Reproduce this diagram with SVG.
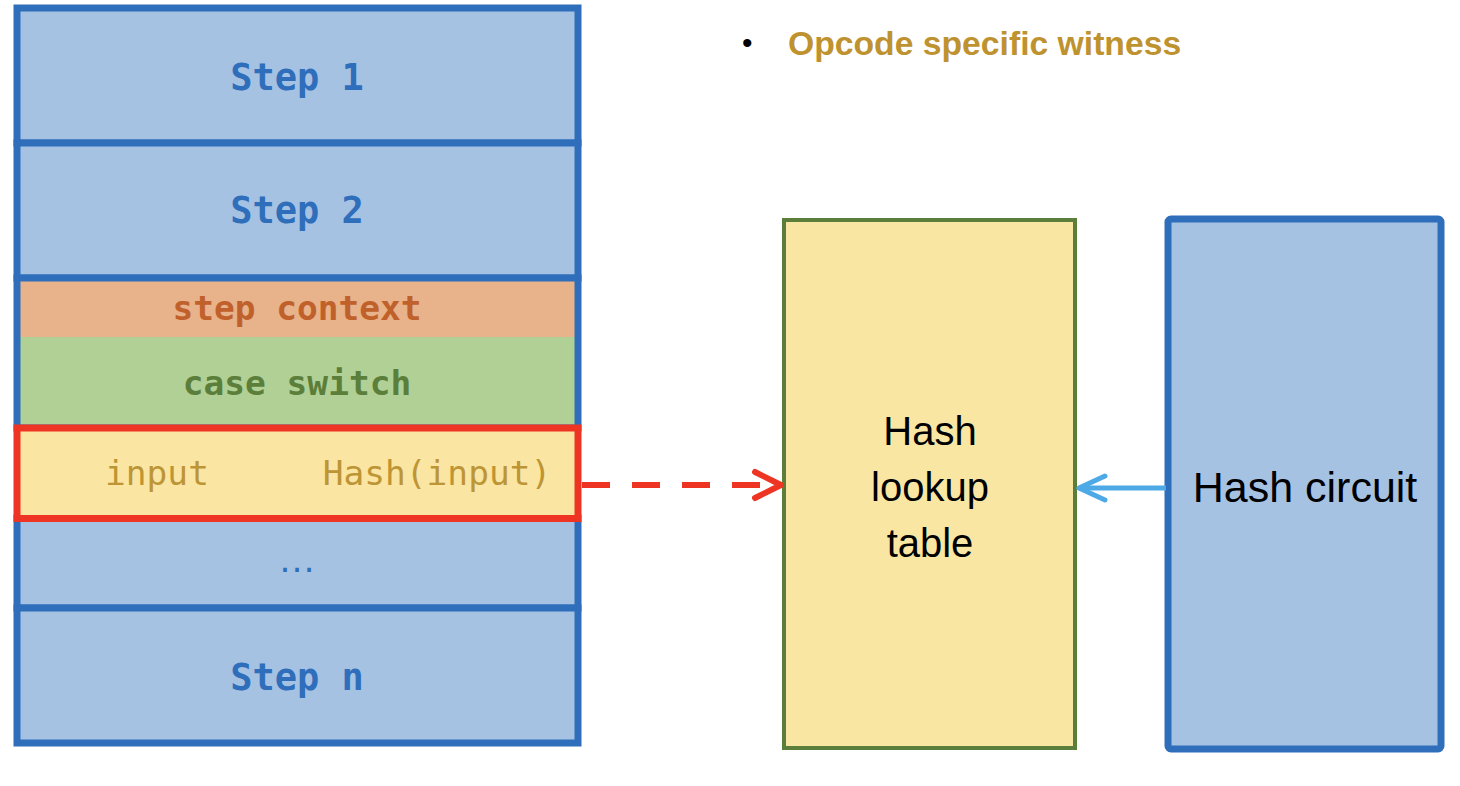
<svg xmlns="http://www.w3.org/2000/svg" width="1460" height="786" viewBox="0 0 1460 786">
<style>
.mono{font-family:"DejaVu Sans Mono","Liberation Mono",monospace;font-weight:bold;text-anchor:middle}
.mreg{font-family:"DejaVu Sans Mono","Liberation Mono",monospace;text-anchor:middle}
.sans{font-family:"Liberation Sans",Arial,sans-serif;text-anchor:middle;fill:#000}
.blueRow{fill:#A6C2E3;stroke:#2F6EBA;stroke-width:7}
.stepTxt{fill:#2F6EBA;font-size:37px}
</style>
<defs>
<marker id="redHead" markerUnits="userSpaceOnUse" viewBox="0 0 40 40" refX="34" refY="20" markerWidth="40" markerHeight="40" orient="auto">
<polyline points="8,7 34,20 8,33" fill="none" stroke="#EE3524" stroke-width="6" stroke-linecap="round" stroke-linejoin="round"/>
</marker>
<marker id="blueHead" markerUnits="userSpaceOnUse" viewBox="0 0 40 40" refX="35" refY="20" markerWidth="40" markerHeight="40" orient="auto">
<polyline points="9,8 35,20 9,32" fill="none" stroke="#4DAAE6" stroke-width="5" stroke-linecap="round" stroke-linejoin="round"/>
</marker>
</defs>
<rect width="1460" height="786" fill="#fff"/>

<g id="step1">
<rect class="blueRow" x="17" y="8" width="561" height="135"/>
<text class="mono stepTxt" x="297" y="90">Step 1</text>
</g>
<g id="step2">
<rect class="blueRow" x="17" y="143" width="561" height="135"/>
<text class="mono stepTxt" x="297" y="223">Step 2</text>
</g>
<g id="step-context">
<rect x="17" y="278" width="561" height="59" fill="#E8B28A"/>
<text class="mono" x="297" y="320" font-size="34.5" fill="#C0612B">step context</text>
</g>
<g id="case-switch">
<rect x="17" y="337" width="561" height="91" fill="#B1D096"/>
<text class="mono" x="297" y="395" font-size="34.5" fill="#5B7F3A">case switch</text>
</g>
<rect x="17" y="278" width="561" height="150" fill="none" stroke="#2F6EBA" stroke-width="7"/>
<g id="ellipsis-row">
<rect class="blueRow" x="17" y="518" width="561" height="90"/>
<text x="297" y="572" font-family="Liberation Sans,Arial,sans-serif" text-anchor="middle" font-size="38" fill="#2F6EBA">…</text>
</g>
<g id="stepn">
<rect class="blueRow" x="17" y="608" width="561" height="135"/>
<text class="mono stepTxt" x="297" y="690">Step n</text>
</g>
<g id="hash-row">
<rect x="17" y="428" width="561" height="90.5" fill="#FAE5A3" stroke="#EE3524" stroke-width="7"/>
<text class="mreg" x="157" y="485" font-size="34.5" fill="#BD9535">input</text>
<text class="mreg" x="437" y="485" font-size="34.5" fill="#BD9535">Hash(input)</text>
</g>

<g id="witness-note">
<text x="742" y="53" font-family="Liberation Sans,Arial,sans-serif" font-size="30" fill="#000">•</text>
<text x="788" y="55" font-family="Liberation Sans,Arial,sans-serif" font-size="33.7" font-weight="bold" fill="#BF9230">Opcode specific witness</text>
</g>

<g id="hash-lookup-table">
<rect x="784" y="220" width="291" height="528" fill="#F9E6A3" stroke="#5B7F3A" stroke-width="4"/>
<text class="sans" x="930" y="445" font-size="40">Hash</text>
<text class="sans" x="930" y="501" font-size="40">lookup</text>
<text class="sans" x="930" y="557" font-size="40">table</text>
</g>

<g id="hash-circuit">
<rect x="1168" y="219" width="273" height="530" rx="3" fill="#A6C2E3" stroke="#2F6EBA" stroke-width="7"/>
<text class="sans" x="1305" y="502" font-size="43">Hash circuit</text>
</g>

<g id="connectors">
<line x1="582" y1="485" x2="781" y2="485" stroke="#EE3524" stroke-width="6" stroke-dasharray="28,22" marker-end="url(#redHead)"/>
<line x1="1166" y1="488" x2="1079" y2="488" stroke="#4DAAE6" stroke-width="5" marker-end="url(#blueHead)"/>
</g>
</svg>
